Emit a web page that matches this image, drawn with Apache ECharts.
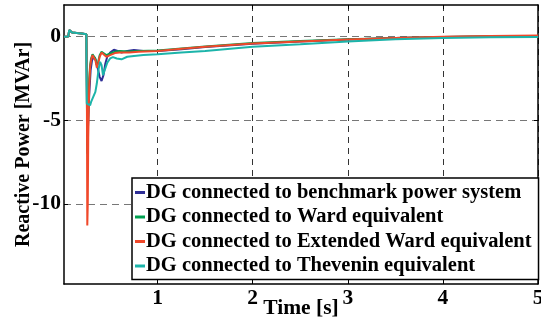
<!DOCTYPE html>
<html><head><meta charset="utf-8">
<script src="https://cdn.jsdelivr.net/npm/echarts@6/dist/echarts.min.js"></script>
<style>html,body{margin:0;padding:0;background:#fff}#c{width:541px;height:320px}</style>
</head><body><div id="c"></div>
<script>
// ---- data ----
const seriesNames = [
  'DG connected to benchmark power system',
  'DG connected to Ward equivalent',
  'DG connected to Extended Ward equivalent',
  'DG connected to Thevenin equivalent'
];
const xTicks = [1, 2, 3, 4, 5];
const yTicks = [-10, -5, 0];

const tPre = [0.015, 0.06, 0.07, 0.08, 0.09, 0.10, 0.15, 0.20, 0.25];
const vPre = [0, 0.02, 0.4, 0.5, 0.3, 0.25, 0.22, 0.2, 0.15];

const tBench = [0.255, 0.26, 0.27, 0.28, 0.295, 0.31, 0.33, 0.35, 0.37, 0.39, 0.41, 0.43, 0.45, 0.47, 0.50, 0.54, 0.58, 0.62, 0.68, 0.75, 0.85, 1.0, 1.25, 1.5, 2.0, 2.5, 3.0, 3.5, 4.0, 4.5, 5.0];
const vBench = [-3, -6.5, -5, -3.5, -2, -1.4, -1.2, -1.4, -1.9, -2.4, -2.65, -2.3, -1.6, -1.2, -0.95, -0.78, -0.85, -0.95, -0.85, -0.8, -0.85, -0.85, -0.75, -0.62, -0.42, -0.28, -0.17, -0.08, -0.02, 0.02, 0.03];

const tWard = [0.255, 0.26, 0.27, 0.28, 0.29, 0.30, 0.315, 0.33, 0.345, 0.36, 0.375, 0.39, 0.41, 0.43, 0.46, 0.50, 0.55, 0.6, 0.7, 0.8, 1.0, 1.25, 1.5, 2.0, 2.5, 3.0, 3.5, 4.0, 4.5, 5.0];
const vWard = [-3, -7, -4.5, -2.5, -1.7, -1.3, -1.05, -1.0, -1.3, -1.7, -1.5, -1.1, -0.9, -0.95, -1.1, -1.0, -0.9, -0.85, -0.88, -0.85, -0.82, -0.7, -0.58, -0.38, -0.25, -0.15, -0.07, -0.01, 0.03, 0.05];

const tExt = [0.255, 0.26, 0.265, 0.27, 0.28, 0.29, 0.30, 0.315, 0.33, 0.345, 0.36, 0.375, 0.39, 0.41, 0.43, 0.46, 0.50, 0.55, 0.6, 0.7, 0.8, 1.0, 1.25, 1.5, 2.0, 2.5, 3.0, 3.5, 4.0, 4.5, 5.0];
const vExt = [-2, -11.3, -10, -6, -3, -1.8, -1.4, -1.1, -1.05, -1.4, -1.85, -1.6, -1.2, -0.95, -1.0, -1.2, -1.1, -0.98, -0.95, -0.95, -0.9, -0.85, -0.72, -0.6, -0.4, -0.28, -0.17, -0.08, 0.0, 0.05, 0.08];

const tThev = [0.255, 0.27, 0.29, 0.30, 0.32, 0.345, 0.36, 0.38, 0.395, 0.41, 0.425, 0.44, 0.47, 0.50, 0.53, 0.57, 0.62, 0.68, 0.75, 0.85, 1.0, 1.25, 1.5, 2.0, 2.5, 3.0, 3.5, 4.0, 4.5, 5.0];
const vThev = [-4.0, -4.0, -4.1, -3.9, -4.0, -3.3, -2.8, -1.9, -1.5, -1.7, -2.3, -2.2, -1.55, -1.3, -1.22, -1.3, -1.35, -1.2, -1.15, -1.1, -1.05, -0.95, -0.85, -0.6, -0.45, -0.28, -0.15, -0.07, -0.03, -0.02];

const colors = ['#2e2e96', '#00a050', '#f0482a', '#1cb4aa'];

function pairs(ts, vs) {
  const a = tPre.map((t, i) => [t, vPre[i]]);
  return a.concat(ts.map((t, i) => [t, vs[i]]));
}
const allT = [tBench, tWard, tExt, tThev];
const allV = [vBench, vWard, vExt, vThev];

const font = 'Liberation Serif';
const FS = 21.5;
const LFS = 20.5;
const chart = echarts.init(document.getElementById('c'), null, {renderer: 'canvas'});
const X_MIN = 0.015, X_MAX = 5, Y_MIN = -14.8, Y_MAX = 1.9;
chart.setOption({
  animation: false,
  backgroundColor: '#fff',
  grid: {left: 64, right: 3, top: 5, bottom: 36, containLabel: false, outerBoundsMode: 'none'},
  legend: {
    data: seriesNames,
    orient: 'vertical',
    left: 132, top: 178,
    padding: [4, 7, 3, 3],
    itemGap: 3.5,
    itemWidth: 10, itemHeight: 3,
    icon: 'rect',
    borderColor: '#000', borderWidth: 1.5,
    backgroundColor: '#fff',
    textStyle: {fontFamily: font, fontWeight: 'bold', fontSize: LFS, color: '#000', padding: [0, 0, 0, -4]}
  },
  xAxis: [{
    type: 'value', min: X_MIN, max: X_MAX,
    name: 'Time [s]', nameLocation: 'middle', nameGap: 13, nameMoveOverlap: false,
    nameTextStyle: {fontFamily: font, fontWeight: 'bold', fontSize: FS, color: '#000'},
    axisLine: {show: true, onZero: false, lineStyle: {color: '#000', width: 1.5}},
    axisTick: {show: true, inside: true, length: 4, customValues: xTicks, lineStyle: {color: '#000'}},
    axisLabel: {customValues: xTicks, fontFamily: font, fontWeight: 'bold', fontSize: FS, color: '#000', margin: 3},
    splitLine: {show: true, lineStyle: {color: '#333', type: [6, 5], width: 1}}
  }, {
    type: 'value', min: X_MIN, max: X_MAX, position: 'top',
    axisLine: {show: true, onZero: false, lineStyle: {color: '#000', width: 1.5}},
    axisTick: {show: true, inside: true, length: 4, customValues: xTicks, lineStyle: {color: '#000'}},
    axisLabel: {show: false}, splitLine: {show: false}
  }],
  yAxis: [{
    type: 'value', min: Y_MIN, max: Y_MAX,
    name: 'Reactive Power [MVAr]', nameLocation: 'middle', nameGap: 30, nameRotate: 90, nameMoveOverlap: false,
    nameTextStyle: {fontFamily: font, fontWeight: 'bold', fontSize: 20, color: '#000'},
    axisLine: {show: true, onZero: false, lineStyle: {color: '#000', width: 1.5}},
    axisTick: {show: true, inside: true, length: 4, customValues: yTicks, lineStyle: {color: '#000'}},
    axisLabel: {customValues: yTicks, fontFamily: font, fontWeight: 'bold', fontSize: FS, color: '#000', margin: 3},
    splitLine: {show: true, lineStyle: {color: '#777', type: [7, 5], width: 1.2}}
  }, {
    type: 'value', min: Y_MIN, max: Y_MAX, position: 'right',
    axisLine: {show: true, onZero: false, lineStyle: {color: '#000', width: 1.5}},
    axisTick: {show: true, inside: true, length: 4, customValues: yTicks, lineStyle: {color: '#000'}},
    axisLabel: {show: false}, splitLine: {show: false}
  }],
  series: seriesNames.map((n, i) => ({
    name: n, type: 'line', xAxisIndex: 0, yAxisIndex: 0,
    data: pairs(allT[i], allV[i]),
    showSymbol: false, symbol: 'none',
    color: colors[i],
    lineStyle: {width: 2, color: colors[i]},
    z: 2 + i
  }))
});
</script>
</body></html>
